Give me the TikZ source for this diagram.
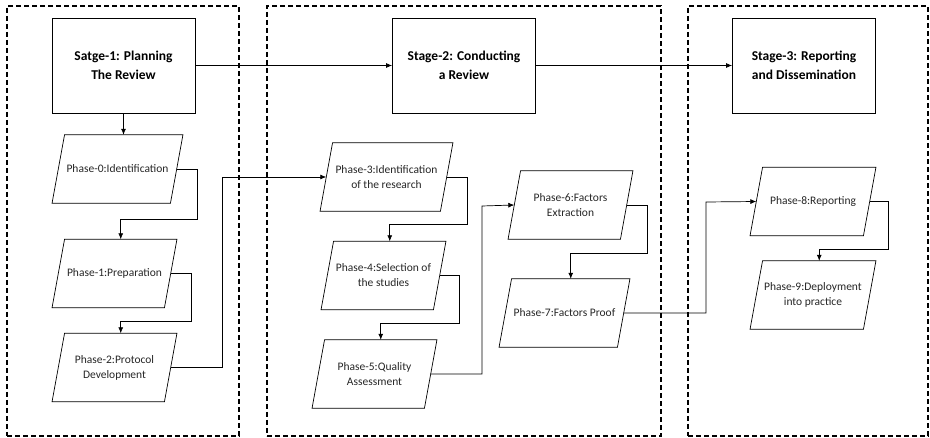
\documentclass[tikz,border=0pt]{standalone}
\usepackage{fontspec}
\setmainfont{Carlito}
\usetikzlibrary{arrows.meta}
\tikzset{
  frame/.style={draw, dash pattern=on 5pt off 3pt, line width=1.6pt, inner sep=0pt},
  stagebox/.style={draw, line width=0.8pt, minimum width=143pt, minimum height=95pt, inner sep=0pt, align=center, font=\fontsize{13.5}{18.5}\selectfont\bfseries},
  phasebox/.style={rectangle, minimum width=#1, minimum height=68pt, inner sep=1pt, align=center, text=black!85, font=\fontsize{11.5}{15}\selectfont},
  paraline/.style={line width=0.7pt},
  conn/.style={line width=0.7pt, -{Latex[length=6pt,width=5pt]}},
}
\begin{document}
\begin{tikzpicture}[x=1pt,y=-1pt]
\useasboundingbox (0,0) rectangle (930,438);
% stage frames
\node[frame, minimum width=232pt, minimum height=430pt] (F1) at (123,221) {};
\node[frame, minimum width=394pt, minimum height=430pt] (F2) at (464,221) {};
\node[frame, minimum width=240pt, minimum height=430pt] (F3) at (808,221) {};
% stage boxes
\node[stagebox] (S1) at (123.5,65.5) {Satge-1: Planning\\The Review};
\node[stagebox] (S2) at (464,65.5) {Stage-2: Conducting\\a Review};
\node[stagebox] (S3) at (804,65.5) {Stage-3: Reporting\\and Dissemination};
% phases (text bodies)
\node[phasebox=118pt] (P0) at (117.5,169) {Phase-0:Identification};
\node[phasebox=112pt] (P1) at (114.5,273.5) {Phase-1:Preparation};
\node[phasebox=112pt] (P2) at (114.5,367.5) {Phase-2:Protocol\\Development};
\node[phasebox=120pt] (P3) at (386.5,177) {Phase-3:Identification\\of the research};
\node[phasebox=112pt] (P4) at (383.5,275.5) {Phase-4:Selection of\\the studies};
\node[phasebox=112pt] (P5) at (374.5,374) {Phase-5:Quality\\Assessment};
\node[phasebox=112pt] (P6) at (570.5,205) {Phase-6:Factors\\Extraction};
\node[phasebox=118pt] (P7) at (564.5,313) {Phase-7:Factors Proof};
\node[phasebox=113pt] (P8) at (813,201.5) {Phase-8:Reporting};
\node[phasebox=113pt] (P9) at (813,295) {Phase-9:Deployment\\into practice};
% parallelogram outlines
\foreach \n in {P0,P1,P2,P3,P4,P5,P6,P7,P8,P9}
  \draw[paraline] ([xshift=-6.25pt]\n.south west) -- ([xshift=6.25pt]\n.north west)
    -- ([xshift=6.25pt]\n.north east) -- ([xshift=-6.25pt]\n.south east) -- cycle;
% connectors
\draw[conn] (S1.east) -- (S2.west);
\draw[conn] (S2.east) -- (S3.west);
\draw[conn] (S1.south) -- (S1.south |- P0.north);
\draw[conn] (P0.east) -| (197,219) -| ([xshift=6.25pt]P1.north);
\draw[conn] (P1.east) -| (191,321) -| ([xshift=6.25pt]P2.north);
\draw[conn] (P2.east) -| (222,177) -- (P3.west);
\draw[conn] (P3.east) -| (467,224) -| ([xshift=6.25pt]P4.north);
\draw[conn] (P4.east) -| (459,323) -| ([xshift=6.25pt]P5.north);
\draw[conn] (P5.east) -| (482,206) -- (P6.west);
\draw[conn] (P6.east) -| (647,253) -| ([xshift=6.25pt]P7.north);
\draw[conn] (P7.east) -| (706,202) -- (P8.west);
\draw[conn] (P8.east) -| (888,249) -| ([xshift=6.25pt]P9.north);
\end{tikzpicture}
\end{document}
